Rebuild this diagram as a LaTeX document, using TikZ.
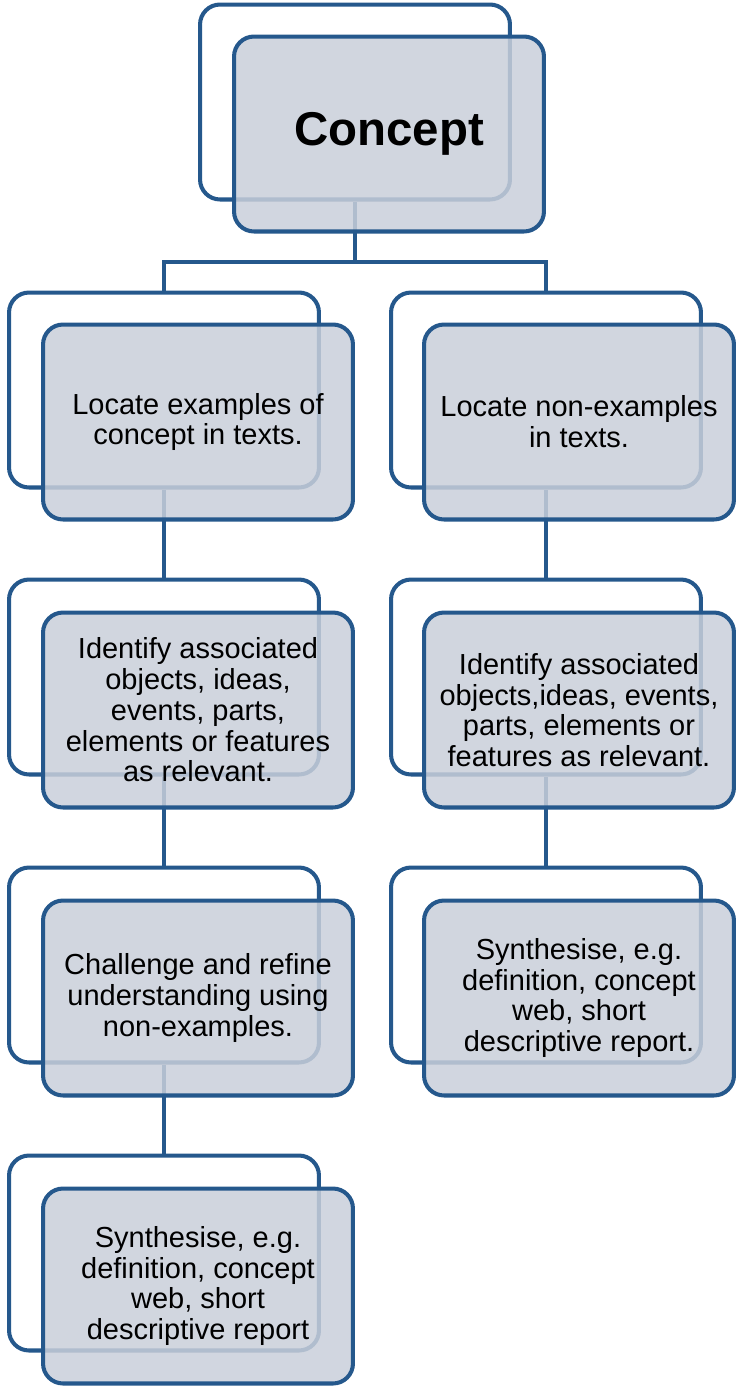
\documentclass[tikz,border=0pt]{standalone}
\usepackage{fontspec}
\setmainfont{Liberation Sans}
\usetikzlibrary{positioning}
\definecolor{boxline}{RGB}{37,88,140}
\definecolor{boxfill}{RGB}{201,207,218}
\tikzset{
  bk/.style = {draw=boxline, fill=white, rounded corners=0.4cm,
    line width=2.3pt, minimum width=6.2cm, minimum height=3.9cm},
  fr/.style = {bk, fill=boxfill, fill opacity=0.85, text opacity=1,
    align=center, font=\fontsize{16.5pt}{17.5pt}\selectfont},
  lnk/.style = {draw=boxline, line width=2.3pt}
}

\begin{document}
\begin{tikzpicture}[x=0.02cm, y=-0.02cm]
  \useasboundingbox (0,0) rectangle (736,1390);
  % back boxes
  \node [bk] (cb) at (355,102) {};
  \node [bk] (lb1) at (164,390) {};
  \node [bk] (lb2) at (164,677) {};
  \node [bk] (lb3) at (164,965) {};
  \node [bk] (lb4) at (164,1253) {};
  \node [bk] (rb1) at (546,390) {};
  \node [bk] (rb2) at (546,677) {};
  \node [bk] (rb3) at (546,965) {};
  % links
  \coordinate (fork) at (355,262);
  \draw [lnk] (cb.south) -- (fork) -| (lb1.north);
  \draw [lnk] (fork) -| (rb1.north);
  \draw [lnk] (lb1.south) -- (lb2.north);
  \draw [lnk] (lb2.south) -- (lb3.north);
  \draw [lnk] (lb3.south) -- (lb4.north);
  \draw [lnk] (rb1.south) -- (rb2.north);
  \draw [lnk] (rb2.south) -- (rb3.north);
  % front boxes
  \node [fr, font=\fontsize{27pt}{30pt}\selectfont\bfseries] (c) at (389,134) {Concept};
  \node [fr] (l1) at (198,422) {Locate examples of\\concept in texts.};
  \node [fr] (l2) at (198,710) {Identify associated\\objects, ideas,\\events, parts,\\elements or features\\as relevant.};
  \node [fr] (l3) at (198,998) {Challenge and refine\\understanding using\\non-examples.};
  \node [fr] (l4) at (198,1286) {Synthesise, e.g.\\definition, concept\\web, short\\descriptive report};
  \node [fr] (r1) at (579,422) {Locate non-examples\\in texts.};
  \node [fr] (r2) at (579,710) {Identify associated\\objects,ideas, events,\\parts, elements or\\features as relevant.};
  \node [fr] (r3) at (579,998) {Synthesise, e.g.\\definition, concept\\web, short\\descriptive report.};
\end{tikzpicture}
\end{document}
